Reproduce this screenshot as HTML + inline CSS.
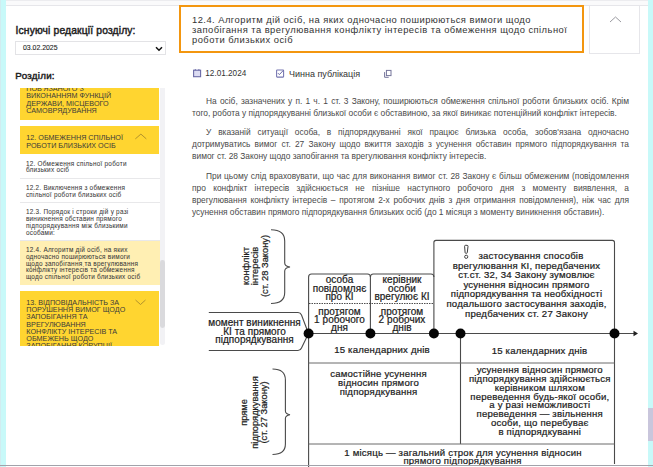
<!DOCTYPE html>
<html><head><meta charset="utf-8">
<style>
*{margin:0;padding:0;box-sizing:border-box}
html,body{width:653px;height:467px;overflow:hidden;background:#fff;font-family:"Liberation Sans",sans-serif;color:#333}
.abs{position:absolute}
#lcyan{left:0;top:0;width:6px;height:467px;background:#c8f9f9}
#lcyan:before{content:"";position:absolute;left:0;top:0;width:1px;height:467px;background:#d2ecf0}
#rcyan{left:648px;top:0;width:5px;height:467px;background:#c8f9f9}
#rblk{left:648px;top:408px;width:5px;height:33px;background:#c9c6dc}
#topbar{left:6px;top:0;width:642px;height:5.8px;background:#fafafb;border-top:1px solid #ececef;border-bottom:1px solid #e6e6ea}
#botline{left:0;top:464.9px;width:653px;height:1.2px;background:#a2a2aa}
.h{font-weight:normal;color:#1e1e1e;font-size:10.3px;white-space:nowrap;-webkit-text-stroke:0.45px #1e1e1e;letter-spacing:0.15px}
#sel{left:15px;top:41px;width:151px;height:14.3px;border:1px solid #e3e3e6;background:#fff;font-size:6.9px;color:#222}
#sel span{position:absolute;left:7px;top:2px;-webkit-text-stroke:0.1px #222}
#list{left:20px;top:88px;width:145px;height:257.8px;overflow:hidden}
.y{position:absolute;left:0;width:139.3px;background:#ffd530;color:#3a3a3a;font-size:7.2px;text-transform:uppercase;line-height:7.25px;letter-spacing:0px;white-space:nowrap;padding-left:6.3px}
.sub{position:absolute;left:0;width:139.5px;color:#3a3a3a;-webkit-text-stroke:0.05px #3a3a3a;font-size:6.4px;line-height:6.7px;border-bottom:1px solid #e8e8ea;white-space:nowrap;letter-spacing:0.25px;padding-left:5.9px}
.act{background:#ffefb3;border-bottom:none}
#sb{left:160px;top:88px;width:5px;height:257px;background:#f2f2f5;border-radius:0 0 2.5px 2.5px}
#thumb{left:160px;top:260px;width:4.8px;height:67.5px;background:#dadadd;border-radius:2.4px}
#title{left:179px;top:5px;width:405px;height:48px;border:2.2px solid #f3960f;font-size:9.4px;line-height:9.9px;color:#333;white-space:nowrap;letter-spacing:0.46px}
#coll{left:589px;top:5px;width:51px;height:49px;border:1px solid #e6e6ea}
.meta{font-size:8px;color:#333;white-space:nowrap}
.p{position:absolute;left:192px;width:437px;font-size:8.4px;line-height:12px;color:#4a4a4a}
.p div{text-align:justify;text-align-last:justify;white-space:nowrap;height:12px}
.p div.l{text-align-last:left}
svg text{font-family:"Liberation Sans",sans-serif;fill:#1c1c1c;stroke:#1c1c1c;stroke-width:0.22px;text-anchor:middle}
</style></head><body>
<div id="lcyan" class="abs"></div>
<div id="rcyan" class="abs"></div>
<div id="rblk" class="abs"></div>
<div id="topbar" class="abs"></div>

<div class="abs h" style="left:15.5px;top:25.3px">Існуючі редакції розділу:</div>
<div id="sel" class="abs"><span>03.02.2025</span>
<svg class="abs" style="left:139px;top:3.5px" width="8" height="6" viewBox="0 0 8 6"><path d="M1 1.2 L4 4.2 L7 1.2" fill="none" stroke="#111" stroke-width="1.5"/></svg>
</div>
<div class="abs h" style="left:15.3px;top:69.6px;font-size:9.8px;letter-spacing:0.25px">Розділи:</div>

<div id="list" class="abs">
  <div class="y" style="top:-7.35px;height:39.35px;padding-top:4.2px;line-height:7.5px">ПОВ'ЯЗАНОГО З<br>ВИКОНАННЯМ ФУНКЦІЙ<br>ДЕРЖАВИ, МІСЦЕВОГО<br>САМОВРЯДУВАННЯ</div>
  <div class="y" style="top:38px;height:28.2px;padding-top:8.3px">12. ОБМЕЖЕННЯ СПІЛЬНОЇ<br>РОБОТИ БЛИЗЬКИХ ОСІБ</div>
  <div class="sub" style="top:65.6px;height:25px;padding-top:7px">12. Обмеження спільної роботи<br>близьких осіб</div>
  <div class="sub" style="top:90.6px;height:24px;padding-top:6.6px">12.2. Виключення з обмеження<br>спільної роботи близьких осіб</div>
  <div class="sub" style="top:114.6px;height:38.4px;padding-top:6.8px">12.3. Порядок і строки дій у разі<br>виникнення обставин прямого<br>підпорядкування між близькими<br>особами:</div>
  <div class="sub act" style="top:153.4px;height:44.1px;padding-top:5.8px">12.4. Алгоритм дій осіб, на яких<br>одночасно поширюються вимоги<br>щодо запобігання та врегулювання<br>конфлікту інтересів та обмеження<br>щодо спільної роботи близьких осіб</div>
  <div class="y" style="top:202.8px;height:60px;padding-top:8.2px">13. ВІДПОВІДАЛЬНІСТЬ ЗА<br>ПОРУШЕННЯ ВИМОГ ЩОДО<br>ЗАПОБІГАННЯ ТА<br>ВРЕГУЛЮВАННЯ<br>КОНФЛІКТУ ІНТЕРЕСІВ ТА<br>ОБМЕЖЕНЬ ЩОДО<br>ЗАПОБІГАННЯ КОРУПЦІЇ</div>
  <svg class="abs" style="left:114.5px;top:44.5px" width="12" height="8" viewBox="0 0 12 8"><path d="M0.3 5.9 L5.9 1.1 L11.3 5.9" fill="none" stroke="#a4872c" stroke-width="0.85"/></svg>
  <svg class="abs" style="left:115px;top:210.5px" width="12" height="7" viewBox="0 0 12 7"><path d="M0.5 1 L5.5 5.5 L10.5 1" fill="none" stroke="#a4872c" stroke-width="0.85"/></svg>
</div>
<div id="sb" class="abs"></div>
<div id="thumb" class="abs"></div>

<div id="title" class="abs"><div style="position:absolute;left:11px;top:8px">12.4. Алгоритм дій осіб, на яких одночасно поширюються вимоги щодо<br>запобігання та врегулювання конфлікту інтересів та обмеження щодо спільної<br>роботи близьких осіб</div></div>
<div id="coll" class="abs"><svg class="abs" style="left:19px;top:10px" width="13" height="7" viewBox="0 0 13 7"><path d="M1 6 L6.5 1 L12 6" fill="none" stroke="#9a9aa0" stroke-width="1"/></svg></div>

<svg class="abs" style="left:192px;top:68px" width="10" height="10" viewBox="0 0 10 10"><rect x="1.6" y="2.2" width="7" height="6.5" fill="#dcdcf2" stroke="#6a6aa6" stroke-width="1.1"/><path d="M3.3 1v1.5M6.9 1v1.5" stroke="#6a6aa6" stroke-width="0.9"/></svg>
<div class="abs meta" style="left:205.3px;top:68.8px;font-size:8.2px">12.01.2024</div>
<svg class="abs" style="left:275px;top:68px" width="10" height="10" viewBox="0 0 10 10"><rect x="1.6" y="1.9" width="7" height="7.2" rx="0.6" fill="none" stroke="#7474b0" stroke-width="1.05"/><path d="M2.9 5.1 L4.4 6.6 L8.3 2.4" fill="none" stroke="#6a6aa6" stroke-width="1"/></svg>
<div class="abs meta" style="left:289px;top:69px;font-size:9px">Чинна публікація</div>
<svg class="abs" style="left:383px;top:69px" width="10" height="10" viewBox="0 0 10 10"><rect x="3.4" y="1.4" width="4.6" height="5.2" fill="none" stroke="#74749a" stroke-width="1"/><path d="M1.6 3.1 V8.3 H5.7" fill="none" stroke="#74749a" stroke-width="1"/></svg>

<div class="p" style="top:94.7px">
<div style="text-indent:14px">На осіб, зазначених у п. 1 ч. 1 ст. 3 Закону, поширюються обмеження спільної роботи близьких осіб. Крім</div>
<div class="l">того, робота у підпорядкуванні близької особи є обставиною, за якої виникає потенційний конфлікт інтересів.</div>
</div>
<div class="p" style="top:126px">
<div style="text-indent:14px">У вказаній ситуації особа, в підпорядкуванні якої працює близька особа, зобов'язана одночасно</div>
<div>дотримуватись вимог ст. 27 Закону щодо вжиття заходів з усунення обставин прямого підпорядкування та</div>
<div class="l">вимог ст. 28 Закону щодо запобігання та врегулювання конфлікту інтересів.</div>
</div>
<div class="p" style="top:169.5px">
<div style="text-indent:14px">При цьому слід враховувати, що час для виконання вимог ст. 28 Закону є більш обмеженим (повідомлення</div>
<div>про конфлікт інтересів здійснюється не пізніше наступного робочого дня з моменту виявлення, а</div>
<div>врегулювання конфлікту інтересів – протягом 2-х робочих днів з дня отримання повідомлення), ніж час для</div>
<div class="l">усунення обставин прямого підпорядкування близьких осіб (до 1 місяця з моменту виникнення обставин).</div>
</div>

<svg class="abs" style="left:0;top:0" width="653" height="467" viewBox="0 0 653 467">
<g fill="none" stroke="#4a4a4a" stroke-width="1.1">
 <path d="M271 229.8 Q284.7 229.8 284.7 241 V263 Q284.7 266.2 290 267 Q284.7 267.8 284.7 271 V292.5 Q284.7 303.5 271 303.5"/>
 <path d="M272.5 369 Q285.4 369 285.4 380 V411 Q285.4 414 290 414.8 Q285.4 415.6 285.4 418.6 V444 Q285.4 454.5 272.5 454.5"/>
 <path d="M208.8 312.5 H298 Q300.5 312.5 301.5 315 L308.5 333.5 L301.5 348 Q300.5 350.5 298 350.5 H208.8"/>
 <path d="M308.6 333.5 V277 Q308.6 274 311.6 274 H367.5 Q370.4 274 370.4 277 V333.5"/>
 <path d="M370.4 277 Q370.4 274 373.4 274 H431 Q433.9 274 433.9 277 V333.5"/>
 <path d="M309 303.5 H433.5" stroke="#3a3a3a" stroke-dasharray="1.5 1" stroke-width="0.9"/>
 <path d="M433.9 277 V242.5 Q433.9 240.4 436 240.4 H612.4 Q614.5 240.4 614.5 242.5 V464"/>
 <path d="M308.6 333.5 H635"/>
 <path d="M308.6 333.5 V467"/>
 <path d="M460.5 333.5 V444"/>
</g>
<g fill="none" stroke="#6a6a6a" stroke-width="1">
 <path d="M308.6 363 H614.5"/>
 <path d="M308.6 444 H614.5"/>
</g>
<g fill="none" stroke="#333" stroke-width="1">
 <path d="M464.6 246.3 Q464.6 245.3 465.6 245.3 H467 Q468 245.3 468 246.3 L467.3 252.5 Q467.2 253.3 466.5 253.3 H465.9 Q465.2 253.3 465.1 252.5 Z" stroke-width="0.95"/>
 <circle cx="466.2" cy="256.8" r="1.6" stroke-width="0.9"/>
</g>
<path d="M633.5 330.8 L638 333.5 L633.5 336.2Z" fill="#222"/>
<g fill="#050505">
 <circle cx="308.6" cy="333.5" r="5"/>
 <circle cx="370.4" cy="333.5" r="5"/>
 <circle cx="433.9" cy="333.5" r="5"/>
 <circle cx="460.5" cy="333.5" r="5"/>
 <circle cx="614.5" cy="333.5" r="5"/>
</g>
<g font-size="9.6" letter-spacing="0.2">
 <g transform="translate(255,266) rotate(-90)" font-size="9.3" letter-spacing="0" stroke-width="0.12">
  <text x="0" y="-6.3">конфлікт</text>
  <text x="0" y="3.1">інтересів</text>
  <text x="0" y="12.5">(ст. 28 Закону)</text>
 </g>
 <g transform="translate(255,412.5) rotate(-90)" font-size="9.3" letter-spacing="0" stroke-width="0.12">
  <text x="0" y="-7.8">пряме</text>
  <text x="0" y="3">підпорядкування</text>
  <text x="0" y="12.2">(ст. 27 Закону)</text>
 </g>
 <g font-size="10" letter-spacing="0.05">
 <text x="254.5" y="326">момент виникнення</text>
 <text x="254.5" y="334.8">КІ та прямого</text>
 <text x="254.5" y="343">підпорядкування</text>
 </g>
 <g font-size="10" letter-spacing="0.05">
 <text x="339.5" y="283.2">особа</text>
 <text x="339.5" y="291.6">повідомляє</text>
 <text x="339.5" y="300">про КІ</text>
 <text x="339.5" y="314.5">протягом</text>
 <text x="339.5" y="322.5">1 робочого</text>
 <text x="339.5" y="330.5">дня</text>
 <text x="402" y="283.2">керівник</text>
 <text x="402" y="291.6">особи</text>
 <text x="402" y="300">врегулює КІ</text>
 <text x="402" y="314.5">протягом</text>
 <text x="402" y="322.5">2 робочих</text>
 <text x="402" y="330.5">днів</text>
 </g>
 <text x="531" y="258.8">застосування способів</text>
 <text x="526.5" y="268.5">врегулювання КІ, передбачених</text>
 <text x="526.5" y="278.2">ст.ст. 32, 34 Закону зумовлює</text>
 <text x="526.5" y="287.8">усунення відносин прямого</text>
 <text x="526.5" y="297.4">підпорядкування та необхідності</text>
 <text x="526.5" y="307">подальшого застосування заходів,</text>
 <text x="526.5" y="316.7">предбачених ст. 27 Закону</text>
 <text x="382" y="353.3">15 календарних днів</text>
 <text x="539.5" y="353.5">15 календарних днів</text>
 <text x="378.5" y="377.2">самостійне усунення</text>
 <text x="378.5" y="386.2">відносин прямого</text>
 <text x="378.5" y="395.2">підпорядкування</text>
 <text x="539.8" y="372.9">усунення відносин прямого</text>
 <text x="539.8" y="381.7">підпорядкування здійснюється</text>
 <text x="539.8" y="390.6">керівником шляхом</text>
 <text x="539.8" y="399.5">переведення будь-якої особи,</text>
 <text x="539.8" y="408.4">а у разі неможливості</text>
 <text x="539.8" y="417.3">переведення — звільнення</text>
 <text x="539.8" y="426.2">особи, що перебуває</text>
 <text x="539.8" y="435">в підпорядкуванні</text>
 <text x="463" y="456">1 місяць — загальний строк для усунення відносин</text>
 <text x="462.5" y="464">прямого підпорядкування</text>
</g>
</svg>

<div id="botline" class="abs"></div>
</body></html>
